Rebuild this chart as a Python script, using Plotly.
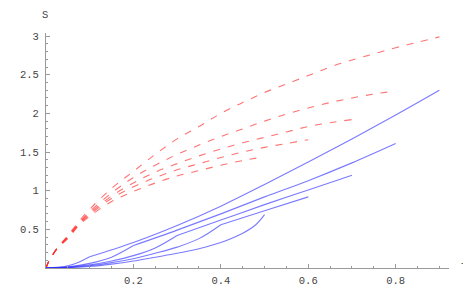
import plotly.graph_objects as go

# ---- red (dashed) curves ----
red1_T = [0, 0.005, 0.01, 0.025, 0.05, 0.075, 0.1, 0.15, 0.2, 0.25, 0.3, 0.35, 0.4, 0.45, 0.5, 0.55, 0.6, 0.65, 0.7, 0.75, 0.8, 0.85, 0.9]
red1_S = [0, 0.07, 0.12, 0.25, 0.42, 0.60, 0.76, 1.03, 1.25, 1.47, 1.67, 1.83, 2.0, 2.14, 2.27, 2.38, 2.49, 2.60, 2.69, 2.77, 2.85, 2.92, 2.99]

red2_T = [0, 0.005, 0.01, 0.025, 0.05, 0.075, 0.1, 0.15, 0.2, 0.25, 0.3, 0.35, 0.4, 0.45, 0.5, 0.55, 0.6, 0.65, 0.7, 0.75, 0.8]
red2_S = [0, 0.07, 0.12, 0.25, 0.41, 0.58, 0.73, 0.97, 1.17, 1.33, 1.47, 1.59, 1.70, 1.80, 1.90, 1.99, 2.07, 2.14, 2.20, 2.25, 2.29]

red3_T = [0, 0.005, 0.01, 0.025, 0.05, 0.075, 0.1, 0.15, 0.2, 0.25, 0.3, 0.35, 0.4, 0.45, 0.5, 0.55, 0.6, 0.65, 0.7]
red3_S = [0, 0.07, 0.12, 0.25, 0.40, 0.57, 0.71, 0.93, 1.10, 1.24, 1.35, 1.45, 1.54, 1.62, 1.69, 1.76, 1.83, 1.88, 1.92]

red4_T = [0, 0.005, 0.01, 0.025, 0.05, 0.075, 0.1, 0.15, 0.2, 0.25, 0.3, 0.35, 0.4, 0.45, 0.5, 0.55, 0.6]
red4_S = [0, 0.07, 0.12, 0.25, 0.39, 0.56, 0.69, 0.90, 1.05, 1.17, 1.27, 1.35, 1.43, 1.50, 1.56, 1.61, 1.66]

red5_T = [0, 0.005, 0.01, 0.025, 0.05, 0.075, 0.1, 0.15, 0.2, 0.25, 0.3, 0.35, 0.4, 0.45, 0.5]
red5_S = [0, 0.07, 0.12, 0.25, 0.38, 0.55, 0.67, 0.86, 0.99, 1.10, 1.19, 1.26, 1.33, 1.39, 1.44]

# ---- blue (solid) curves; each has a kink at the given T ----
blueA_T = [0, 0.025, 0.05, 0.075, 0.1, 0.2, 0.3, 0.4, 0.5, 0.6, 0.7, 0.8, 0.9]
blueA_S = [0, 0.008, 0.03, 0.075, 0.145, 0.33, 0.55, 0.80, 1.08, 1.37, 1.67, 1.98, 2.30]
blueA_kink = 0.1

blueB_T = [0, 0.05, 0.1, 0.15, 0.2, 0.3, 0.4, 0.5, 0.6, 0.7, 0.8]
blueB_S = [0, 0.015, 0.06, 0.14, 0.29, 0.49, 0.70, 0.92, 1.13, 1.36, 1.61]
blueB_kink = 0.2

blueC_T = [0, 0.05, 0.1, 0.15, 0.2, 0.25, 0.3, 0.4, 0.5, 0.6, 0.7]
blueC_S = [0, 0.01, 0.04, 0.09, 0.16, 0.26, 0.42, 0.62, 0.82, 1.01, 1.20]
blueC_kink = 0.3

blueD_T = [0, 0.05, 0.1, 0.15, 0.2, 0.25, 0.3, 0.35, 0.4, 0.5, 0.6]
blueD_S = [0, 0.008, 0.03, 0.07, 0.12, 0.19, 0.27, 0.38, 0.56, 0.74, 0.92]
blueD_kink = 0.4

blueE_T = [0, 0.05, 0.1, 0.15, 0.2, 0.25, 0.3, 0.35, 0.4, 0.45, 0.48, 0.5]
blueE_S = [0, 0.005, 0.02, 0.05, 0.09, 0.14, 0.19, 0.25, 0.33, 0.45, 0.56, 0.69]
blueE_kink = 0.5

x_ticks = [0.2, 0.4, 0.6, 0.8]
x_labels = ["0.2", "0.4", "0.6", "0.8"]
y_ticks = [0.5, 1, 1.5, 2, 2.5, 3]
y_labels = ["0.5", "1", "1.5", "2", "2.5", "3"]

RED = "rgba(255,40,40,0.65)"
BLUE = "rgba(40,40,255,0.62)"

fig = go.Figure()

for T, S in [(red1_T, red1_S), (red2_T, red2_S), (red3_T, red3_S), (red4_T, red4_S), (red5_T, red5_S)]:
    fig.add_trace(go.Scatter(x=T, y=S, mode="lines", line_shape="spline",
                             line=dict(color=RED, width=1.1, dash="7px,8px"),
                             hoverinfo="skip", showlegend=False))

for T, S, k in [(blueA_T, blueA_S, blueA_kink), (blueB_T, blueB_S, blueB_kink),
                (blueC_T, blueC_S, blueC_kink), (blueD_T, blueD_S, blueD_kink),
                (blueE_T, blueE_S, blueE_kink)]:
    i = T.index(k)
    for seg_T, seg_S in [(T[:i + 1], S[:i + 1]), (T[i:], S[i:])]:
        if len(seg_T) < 2:
            continue
        fig.add_trace(go.Scatter(x=seg_T, y=seg_S, mode="lines", line_shape="spline",
                                 line=dict(color=BLUE, width=1.1),
                                 hoverinfo="skip", showlegend=False))

tick_font = dict(family="Liberation Mono, Courier New, monospace", size=10.5, color="#444")

fig.update_layout(
    width=471, height=291,
    margin=dict(l=36, r=30, t=25, b=17.5),
    paper_bgcolor="white", plot_bgcolor="white",
    xaxis=dict(range=[0, 0.922], showgrid=False, zeroline=False,
               showline=True, linecolor="#999", linewidth=1,
               tickvals=x_ticks, ticktext=x_labels, ticks="inside", ticklen=4,
               tickcolor="#999", tickfont=tick_font, ticklabelstandoff=2,
               minor=dict(tickvals=[0.05, 0.1, 0.15, 0.25, 0.3, 0.35, 0.45, 0.5, 0.55, 0.65, 0.7, 0.75, 0.85, 0.9],
                          ticks="inside", ticklen=2, tickcolor="#999", showgrid=False)),
    yaxis=dict(range=[0, 3.04], showgrid=False, zeroline=False,
               showline=True, linecolor="#999", linewidth=1,
               tickvals=y_ticks, ticktext=y_labels, ticks="inside", ticklen=4,
               tickcolor="#999", tickfont=tick_font, ticklabelstandoff=4,
               minor=dict(tickvals=[0.1, 0.2, 0.3, 0.4, 0.6, 0.7, 0.8, 0.9, 1.1, 1.2, 1.3, 1.4, 1.6, 1.7, 1.8, 1.9,
                                    2.1, 2.2, 2.3, 2.4, 2.6, 2.7, 2.8, 2.9, 3.0],
                          ticks="inside", ticklen=2, tickcolor="#999", showgrid=False)),
    annotations=[
        dict(text="S", xref="paper", yref="paper", x=-0.003, y=1.076, showarrow=False,
             font=tick_font, xanchor="center", yanchor="middle"),
        dict(text="T", xref="paper", yref="paper", x=1.037, y=0.003, showarrow=False,
             font=tick_font, xanchor="center", yanchor="middle"),
    ],
)

fig.write_html("out.html")
